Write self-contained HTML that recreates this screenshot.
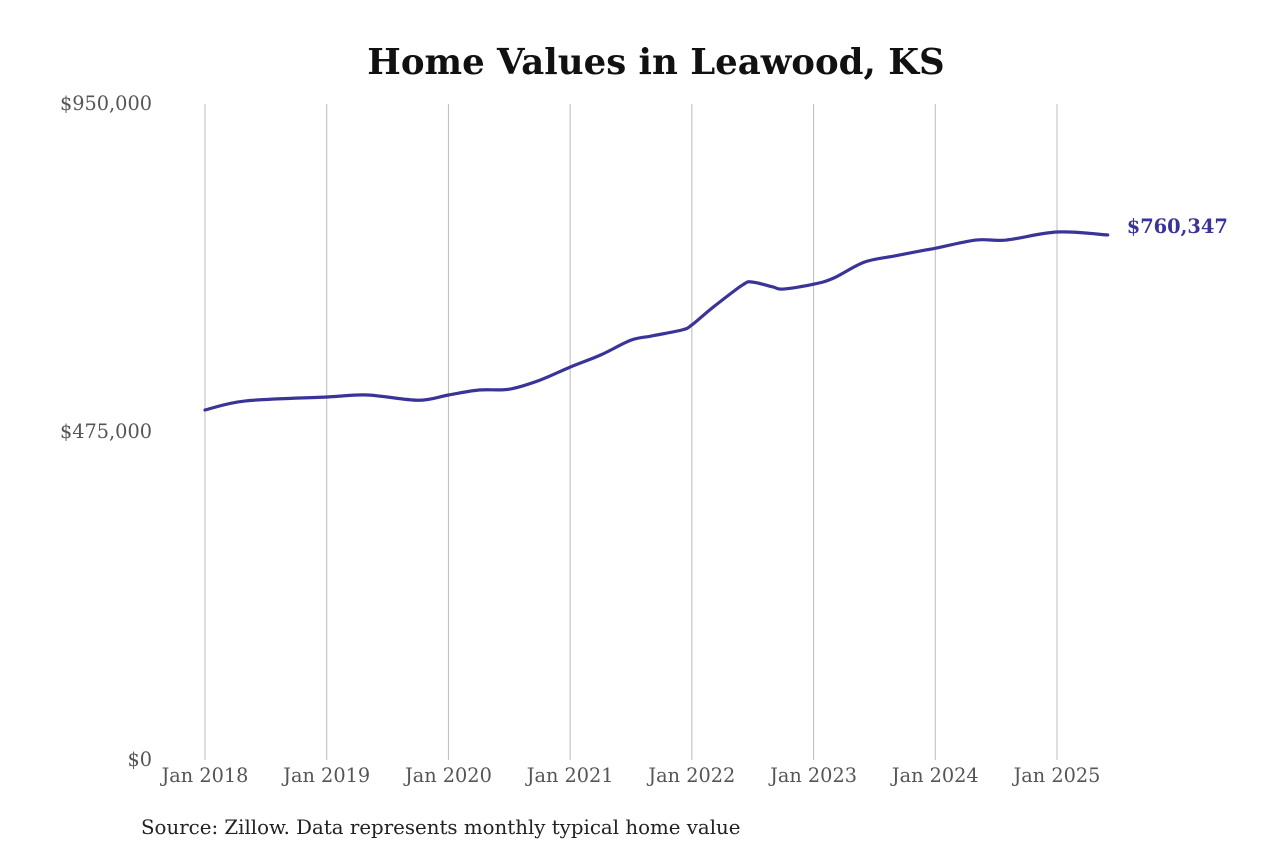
<!DOCTYPE html>
<html><head><meta charset="utf-8"><style>
html,body{margin:0;padding:0;background:#fff;}
svg{display:block;font-family:"DejaVu Serif","Liberation Serif",serif;}
</style></head><body>
<svg id="chart" width="1280" height="853" viewBox="0 0 1280 853">
<text x="656" y="74" text-anchor="middle" font-size="35.5" font-weight="bold" fill="#111">Home Values in Leawood, KS</text>
<g id="grid"></g>
<g id="yaxis"></g>
<g id="xaxis"></g>
<g id="series"></g>
<text x="141" y="834" font-size="19.8" fill="#222">Source: Zillow. Data represents monthly typical home value</text>
</svg>
<script>
// months since Jan 2018
const months = [0,4,12,16,21,24,27,30,33,36,39,42,44,47,48,50,53,54,56,57,60,62,65,68,71,72,76,79,84,89];
const values = [506900,520000,525700,528600,521000,528600,535800,537000,550000,569000,586500,608000,614000,622700,630000,654600,688000,692000,685000,682000,689000,698000,721000,730000,738500,741000,753000,753000,764600,760347];
const yTicks = [0,475000,950000];
const yTickLabels = ["$0","$475,000","$950,000"];
const xTickMonths = [0,12,24,36,48,60,72,84];
const xTickLabels = ["Jan 2018","Jan 2019","Jan 2020","Jan 2021","Jan 2022","Jan 2023","Jan 2024","Jan 2025"];
const endLabel = "$760,347";

const NS="http://www.w3.org/2000/svg";
const X0=205, XPM=(1057-205)/84, Y0=760, Y1=104, VMAX=950000;
function xs(m){return X0+m*XPM;}
function ys(v){return Y0-(v/VMAX)*(Y0-Y1);}
function mk(tag,attrs,parent){const e=document.createElementNS(NS,tag);for(const k in attrs)e.setAttribute(k,attrs[k]);parent.appendChild(e);return e;}
const grid=document.getElementById('grid'),yax=document.getElementById('yaxis'),xax=document.getElementById('xaxis'),ser=document.getElementById('series');
xTickMonths.forEach((m,i)=>{
  const l=mk('line',{x1:xs(m),x2:xs(m),y1:Y1,y2:Y0,stroke:'#bbb','stroke-width':1},grid);
  
  
  const t=mk('text',{x:xs(m),y:Y0+22,'text-anchor':'middle','font-size':19.3,fill:'#555'},xax);
  t.textContent=xTickLabels[i];
  
  
});
yTicks.forEach((v,i)=>{
  const t=mk('text',{x:152,y:ys(v)+6,'text-anchor':'end','font-size':19.3,fill:'#555'},yax);
  t.textContent=yTickLabels[i];
  
  
});
const pts=months.map((m,i)=>[xs(m),ys(values[i])]);
let d='M'+pts[0][0]+','+pts[0][1];
for(let i=0;i<pts.length-1;i++){
  const p0=pts[Math.max(0,i-1)],p1=pts[i],p2=pts[i+1],p3=pts[Math.min(pts.length-1,i+2)];
  const c1x=p1[0]+(p2[0]-p0[0])/6,c1y=p1[1]+(p2[1]-p0[1])/6;
  const c2x=p2[0]-(p3[0]-p1[0])/6,c2y=p2[1]-(p3[1]-p1[1])/6;
  d+=` C${c1x},${c1y} ${c2x},${c2y} ${p2[0]},${p2[1]}`;
}
const path=mk('path',{d:d,fill:'none',stroke:'#3a3499','stroke-width':3.2,'stroke-linejoin':'round','stroke-linecap':'round'},ser);


const last=pts[pts.length-1];
const lt=mk('text',{x:last[0]+19,y:last[1]-2,'font-size':19.4,'font-weight':'bold',fill:'#3a3499'},ser);
lt.textContent=endLabel;


</script>
</body></html>
